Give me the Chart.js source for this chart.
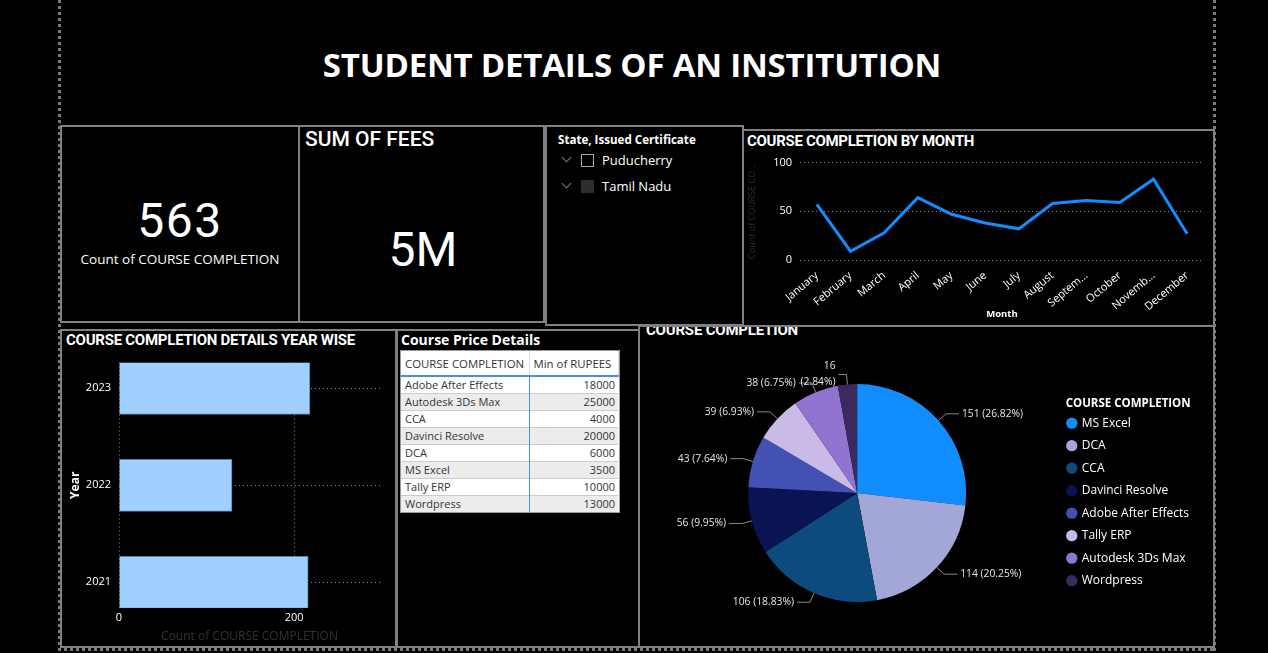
<!DOCTYPE html>
<html>
<head>
<meta charset="utf-8">
<script src="https://cdn.jsdelivr.net/npm/chart.js"></script>
<style>
html,body{margin:0;padding:0;background:#000;width:1268px;height:653px;overflow:hidden;font-family:'Open Sans',sans-serif;color:#fff}
.abs{position:absolute;white-space:nowrap}
.panel{position:absolute;border:2px solid #808080;box-sizing:border-box}
.din{font-family:Roboto,sans-serif}
#table{position:absolute;left:401px;top:351px;border-collapse:collapse;table-layout:fixed;font-family:'Open Sans',sans-serif;font-size:11px;color:#333;background:#fff;outline:1px solid #999;white-space:nowrap}
#table th{font-weight:400;height:24px;padding:0 3px 0 4px;text-align:left;border-bottom:2px solid #4a90d9;border-right:1px solid #ddd;overflow:hidden;font-size:11.4px}
#table td{height:16px;padding:0 3px 0 4px;border-top:1px solid #ccc;line-height:16px;overflow:hidden}
#table td.num{text-align:right;border-left:1.5px solid #4a90d9}
#table tr.alt td{background:#ececec}
.chev{position:absolute;width:6px;height:6px;border-right:1px solid #777;border-bottom:1px solid #777;transform:rotate(45deg)}
canvas{position:absolute}
</style>
</head>
<body>
<!-- dotted outer frame -->
<div class="abs" style="left:58px;top:0;width:3px;height:651px;background:repeating-linear-gradient(to bottom,#7a7a7a 0 3px,transparent 3px 6px)"></div>
<div class="abs" style="left:1213px;top:0;width:3px;height:651px;background:repeating-linear-gradient(to bottom,#7a7a7a 0 3px,transparent 3px 6px)"></div>
<div class="abs" style="left:58px;top:648px;width:1158px;height:3px;background:repeating-linear-gradient(to right,#7a7a7a 0 3px,transparent 3px 6px)"></div>

<div class="abs" style="left:0;width:1264px;top:42px;text-align:center;font-family:'Open Sans',sans-serif;font-weight:700;font-size:33px;letter-spacing:-0.2px">STUDENT DETAILS OF AN INSTITUTION</div>

<!-- panels -->
<div class="panel" style="left:60px;top:125px;width:240px;height:198px"></div>
<div class="panel" style="left:298px;top:125px;width:247px;height:198px"></div>
<div class="panel" style="left:545px;top:125px;width:199px;height:201px"></div>
<div class="panel" style="left:742px;top:129px;width:473px;height:198px"></div>
<div class="panel" style="left:60px;top:329px;width:338px;height:319px"></div>
<div class="panel" style="left:395px;top:329px;width:245px;height:319px"></div>
<div class="panel" style="left:638px;top:325px;width:577px;height:323px"></div>

<!-- KPI cards -->
<div class="abs din" id="kpiCount" style="left:61px;width:238px;top:193px;text-align:center;font-size:48px;line-height:56px;letter-spacing:1.5px"></div>
<div class="abs" style="left:61px;width:238px;top:250px;text-align:center;font-size:13.5px">Count of COURSE COMPLETION</div>
<div class="abs din" style="left:305px;top:127px;font-size:21px;font-weight:500">SUM OF FEES</div>
<div class="abs din" id="kpiFees" style="left:300px;width:246px;top:222px;text-align:center;font-size:48px;line-height:56px"></div>

<!-- slicer -->
<div class="abs" style="left:558px;top:132px;font-size:11.6px;font-weight:700">State, Issued Certificate</div>
<div class="chev" style="left:563px;top:154px"></div>
<div class="abs" style="left:581px;top:154px;width:11px;height:11px;border:1px solid #aaa"></div>
<div class="abs" style="left:602px;top:151px;font-size:13px">Puducherry</div>
<div class="chev" style="left:563px;top:180px"></div>
<div class="abs" style="left:581px;top:180px;width:13px;height:13px;background:#2e2e2e"></div>
<div class="abs" style="left:602px;top:177px;font-size:13px">Tamil Nadu</div>

<!-- titles -->
<div class="abs din" style="left:747px;top:132px;font-size:15px;font-weight:700;letter-spacing:-0.3px">COURSE COMPLETION BY MONTH</div>
<div class="abs din" style="left:66px;top:331px;font-size:15px;font-weight:700;letter-spacing:-0.25px">COURSE COMPLETION DETAILS YEAR WISE</div>
<div class="abs" style="left:401px;top:330px;font-size:14px;font-weight:700">Course Price Details</div>
<div class="abs din" style="left:646px;top:321px;font-size:15px;font-weight:700;letter-spacing:-0.2px;clip-path:inset(6px 0 0 0)">COURSE COMPLETION</div>

<table id="table"></table>

<canvas id="lineChart" width="468" height="176" style="left:744px;top:148px"></canvas>
<canvas id="barChart" width="334" height="298" style="left:61px;top:348px"></canvas>
<canvas id="pieChart" width="558" height="310" style="left:641px;top:338px"></canvas>

<script>
// ---------- data ----------
const months = ['January','February','March','April','May','June','July','August','Septem…','October','Novemb…','December'];
const monthCounts = [57, 9, 28, 64, 47, 38, 32, 58, 61, 59, 83, 27];

const years = [2021, 2022, 2023];
const yearCounts = [216, 129, 218];

const courses = ['MS Excel','DCA','CCA','Davinci Resolve','Adobe After Effects','Tally ERP','Autodesk 3Ds Max','Wordpress'];
const courseCounts = [151, 114, 106, 56, 43, 39, 38, 16];
const courseColors = ['#118DFF','#A3A7D8','#0D4A7E','#0B1452','#4451B4','#C9BAE8','#9174CF','#3B2A5E'];

const priceCourses = ['Adobe After Effects','Autodesk 3Ds Max','CCA','Davinci Resolve','DCA','MS Excel','Tally ERP','Wordpress'];
const priceRupees = [18000, 25000, 4000, 20000, 6000, 3500, 10000, 13000];

const kpiCount = 563;
const kpiFees = '5M';

// ---------- KPI + table ----------
document.getElementById('kpiCount').textContent = kpiCount;
document.getElementById('kpiFees').textContent = kpiFees;
const tbl = document.getElementById('table');
let html = '<colgroup><col style="width:128px"><col style="width:89px"></colgroup>';
html += '<tr><th>COURSE COMPLETION</th><th>Min of RUPEES</th></tr>';
priceCourses.forEach((c,i)=>{
  html += '<tr class="'+(i%2?'alt':'')+'"><td>'+c+'</td><td class="num">'+priceRupees[i]+'</td></tr>';
});
tbl.innerHTML = html;

Chart.defaults.font.family = "'Open Sans', sans-serif";
Chart.defaults.color = '#fff';

// ---------- line chart ----------
new Chart(document.getElementById('lineChart'), {
  type: 'line',
  data: { labels: months, datasets: [{ data: monthCounts, borderColor: '#118DFF', borderWidth: 3, pointRadius: 0, tension: 0, fill: false }] },
  options: {
    responsive: false, animation: false, devicePixelRatio: 1,
    layout: { padding: { top: 14, right: 8, bottom: 4, left: 0 } },
    plugins: { legend: { display: false }, tooltip: { enabled: false } },
    scales: {
      x: {
        offset: true,
        grid: { display: false }, border: { display: false },
        ticks: { color: '#fff', font: { size: 11 }, maxRotation: 40, minRotation: 40, autoSkip: false, padding: 1 },
        title: { display: true, text: 'Month', color: '#fff', font: { size: 9.5, weight: 'bold' }, padding: { top: 0, bottom: 0 } },
        afterFit: s => { s.height = 60; }
      },
      y: {
        min: 0, max: 100,
        ticks: { stepSize: 50, color: '#fff', font: { size: 11 }, padding: 8 },
        grid: { color: '#8a8a8a', drawTicks: false, lineWidth: 1 },
        border: { display: false, dash: [1, 3] },
        title: { display: true, text: 'Count of COURSE CO...', color: '#2e2e2e', font: { size: 9 }, padding: { top: 3, bottom: 0 } },
        afterFit: s => { s.width = 56; }
      }
    }
  }
});

// ---------- bar chart ----------
new Chart(document.getElementById('barChart'), {
  type: 'bar',
  data: { labels: years, datasets: [{ data: yearCounts, backgroundColor: '#A0D0FF', borderColor: '#5f7f9f', borderWidth: 1, barThickness: 52 }] },
  options: {
    indexAxis: 'y',
    responsive: false, animation: false, devicePixelRatio: 1,
    layout: { padding: { top: 12, right: 15, bottom: 0, left: 0 } },
    plugins: { legend: { display: false }, tooltip: { enabled: false } },
    scales: {
      x: {
        min: 0, max: 298,
        ticks: { stepSize: 200, includeBounds: false, color: '#fff', font: { size: 11 }, padding: 3 },
        grid: { color: '#8a8a8a', drawTicks: false },
        border: { display: false, dash: [1, 3] },
        title: { display: true, text: 'Count of COURSE COMPLETION', color: '#333', font: { size: 12 }, padding: { top: 0, bottom: 2 } },
        afterFit: s => { s.height = 38; }
      },
      y: {
        type: 'linear',
        offset: false,
        min: 2020.735, max: 2023.265,
        afterBuildTicks: s => { s.ticks = years.map(v => ({ value: v })); },
        ticks: { color: '#fff', font: { size: 11 }, padding: 8, callback: v => String(v) },
        grid: { color: '#8a8a8a', drawTicks: false, offset: false },
        border: { display: false, dash: [1, 3] },
        title: { display: true, text: 'Year', color: '#fff', font: { size: 12, weight: 'bold' }, padding: { top: 7, bottom: 0 } },
        afterFit: s => { s.width = 58; }
      }
    }
  }
});

// ---------- pie chart ----------
const total = courseCounts.reduce((a,b)=>a+b,0);
const pieLabels = {
  id: 'pieLabels',
  afterDatasetsDraw(chart) {
    const ctx = chart.ctx;
    const meta = chart.getDatasetMeta(0);
    ctx.save();
    ctx.font = '10.3px "Open Sans", sans-serif';
    ctx.fillStyle = '#e6e6e6';
    ctx.strokeStyle = '#8a8a8a';
    ctx.lineWidth = 1;
    ctx.textBaseline = 'middle';
    meta.data.forEach((arc, i) => {
      const p = arc.getProps(['x','y','startAngle','endAngle','outerRadius'], true);
      const mid = (p.startAngle + p.endAngle) / 2;
      const c = Math.cos(mid), s = Math.sin(mid);
      const v = chart.data.datasets[0].data[i];
      const small = v / total < 0.03;
      const x0 = p.x + c * p.outerRadius, y0 = p.y + s * p.outerRadius;
      const x1 = p.x + c * (p.outerRadius + 10), y1 = p.y + s * (p.outerRadius + 10);
      const right = c >= 0;
      const len = small ? 8 : 13;
      const x2 = x1 + (right ? len : -len);
      ctx.beginPath(); ctx.moveTo(x0, y0); ctx.lineTo(x1, y1); ctx.lineTo(x2, y1); ctx.stroke();
      const pct = (v / total * 100).toFixed(2) + '%';
      ctx.textAlign = right ? 'left' : 'right';
      const tx = x2 + (right ? 3 : -3);
      if (small) {
        ctx.fillText(String(v), tx, y1 - 8);
        ctx.fillText('(' + pct + ')', tx, y1 + 8);
      } else {
        ctx.fillText(v + ' (' + pct + ')', tx, y1);
      }
    });
    ctx.restore();
  }
};
new Chart(document.getElementById('pieChart'), {
  type: 'pie',
  data: { labels: courses, datasets: [{ data: courseCounts, backgroundColor: courseColors, borderWidth: 0 }] },
  options: {
    responsive: false, animation: false, devicePixelRatio: 1,
    radius: 109,
    layout: { padding: { top: 0, right: 0, bottom: 0, left: 16 } },
    plugins: {
      tooltip: { enabled: false },
      legend: {
        position: 'right', align: 'center',
        title: { display: true, text: 'COURSE COMPLETION', color: '#fff', font: { size: 11.5, weight: 'bold' }, position: 'center', padding: { top: 9, bottom: -5 } },
        labels: { color: '#fff', font: { size: 12 }, usePointStyle: true, pointStyle: 'circle', boxWidth: 8, boxHeight: 8, padding: 10.5 }
      }
    }
  },
  plugins: [pieLabels]
});
</script>
</body>
</html>
